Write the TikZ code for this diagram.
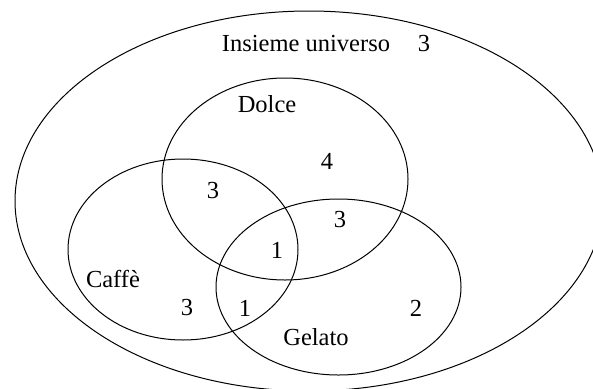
\documentclass[tikz,border=0pt]{standalone}
\usepackage{fontspec}
\setmainfont{Liberation Serif}
\begin{document}
\begin{tikzpicture}[x=1pt,y=-1pt,
  setline/.style={line width=1pt, draw=black},
  lbl/.style={inner sep=0pt, font=\fontsize{24.5}{28}\selectfont}]
\useasboundingbox (0,0) rectangle (593,388);
\clip (0,0) rectangle (593,388);
% sets
\draw[setline] (309,201) ellipse [x radius=294pt, y radius=190pt];
\draw[setline] (285,179) ellipse [x radius=123pt, y radius=101pt];
\draw[setline] (183,249.5) ellipse [x radius=115pt, y radius=90.5pt];
\draw[setline] (338.5,287) ellipse [x radius=122.5pt, y radius=88pt];
% labels
\node[lbl] (universe) at (306,44) {Insieme universo};
\node[lbl] (nU) at (424,44) {3};
\node[lbl] (dolce) at (267,104) {Dolce};
\node[lbl] (nD) at (327,161) {4};
\node[lbl] (nDC) at (213,191) {3};
\node[lbl] (nDG) at (340,220) {3};
\node[lbl] (nDCG) at (277,250) {1};
\node[lbl] (caffe) at (113,279) {Caffè};
\node[lbl] (nC) at (187,308) {3};
\node[lbl] (nCG) at (245,308) {1};
\node[lbl] (nG) at (416,308) {2};
\node[lbl] (gelato) at (316,337) {Gelato};
\end{tikzpicture}
\end{document}
